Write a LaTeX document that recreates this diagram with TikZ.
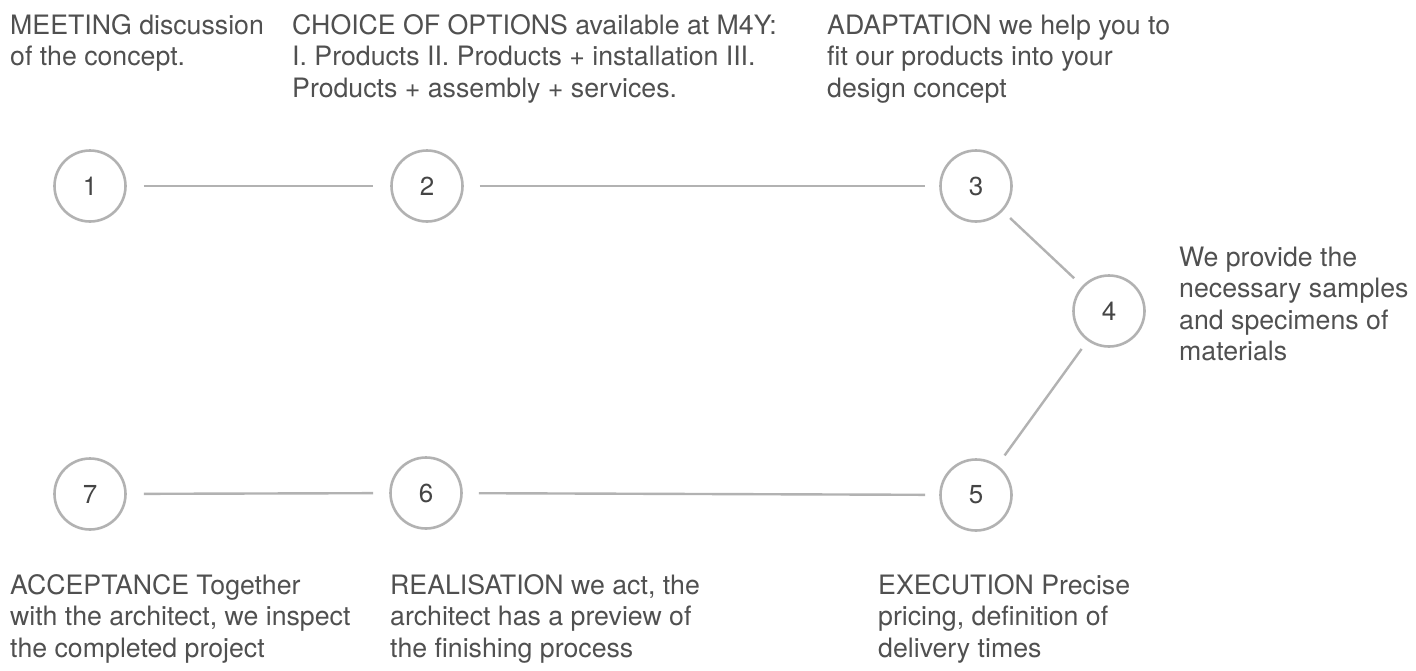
\documentclass[tikz,border=0pt]{standalone}
\usepackage{fontspec}
\setmainfont{TeX Gyre Heros}
\definecolor{txt}{HTML}{505050}
\definecolor{ring}{HTML}{B2B2B2}
\definecolor{num}{HTML}{454545}
\begin{document}
\begin{tikzpicture}[x=1pt,y=-1pt,
  stepnode/.style={circle,draw=ring,line width=2.6pt,minimum size=71pt,inner sep=0pt,
    text=num,font=\fontsize{26}{30}\selectfont},
  link/.style={draw=ring,line width=2.4pt},
  desc/.style={anchor=base west,inner sep=0pt,align=left,text=txt,
    font=\fontsize{26.7}{31.5}\selectfont}]
\useasboundingbox (0,0) rectangle (1416,670);
\fill[white] (0,0) rectangle (1416,670);
\node[stepnode] (n1) at (90,186) {1};
\node[stepnode] (n2) at (427,186) {2};
\node[stepnode] (n3) at (976,186) {3};
\node[stepnode] (n4) at (1109,311) {4};
\node[stepnode] (n5) at (976,495) {5};
\node[stepnode] (n6) at (426,493) {6};
\node[stepnode] (n7) at (90,494) {7};
\draw[link,shorten <=17pt,shorten >=17pt] (n1) -- (n2);
\draw[link,shorten <=16pt,shorten >=14pt] (n2) -- (n3);
\draw[link,shorten <=10pt,shorten >=11pt] (n3) -- (n4);
\draw[link,shorten <=10pt,shorten >=12pt] (n4) -- (n5);
\draw[link,shorten <=14pt,shorten >=16pt] (n5) -- (n6);
\draw[link,shorten <=16pt,shorten >=17pt] (n6) -- (n7);
\node[desc] (t1) at (10,65.5) {MEETING discussion\\of the concept.};
\node[desc] (t2) at (292,97) {CHOICE OF OPTIONS available at M4Y:\\I. Products II. Products + installation III.\\Products + assembly + services.};
\node[desc] (t3) at (827,97) {ADAPTATION we help you to\\fit our products into your\\design concept};
\node[desc] (t4) at (1179,360.5) {We provide the\\necessary samples\\and specimens of\\materials};
\node[desc] (t5) at (878,657) {EXECUTION Precise\\pricing, definition of\\delivery times};
\node[desc] (t6) at (390,657) {REALISATION we act, the\\architect has a preview of\\the finishing process};
\node[desc] (t7) at (10,657) {ACCEPTANCE Together\\with the architect, we inspect\\the completed project};
\end{tikzpicture}
\end{document}
